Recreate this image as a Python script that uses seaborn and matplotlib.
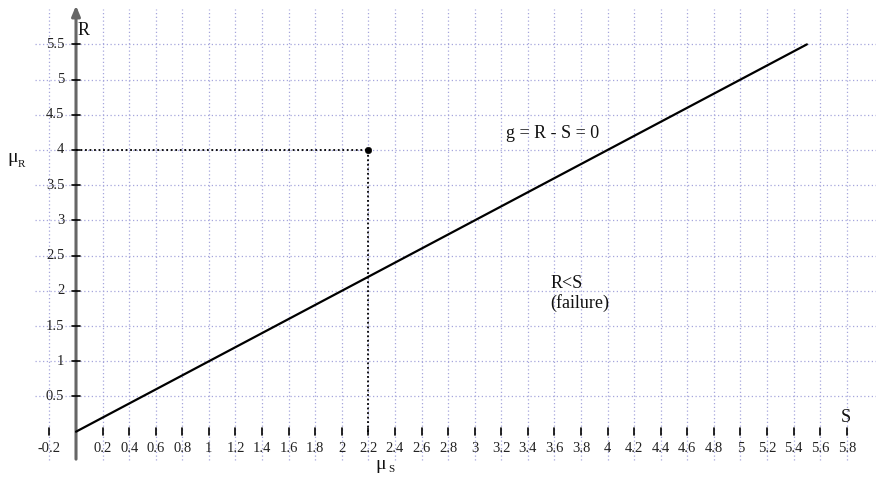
import matplotlib
matplotlib.use("Agg")
import matplotlib.pyplot as plt
import seaborn as sns
import pandas as pd

# Limit-state line g = R - S = 0 and the mean design point
s_line = [0.0, 5.5]
r_line = [0.0, 5.5]
mu_s = 2.2
mu_r = 4.0

# Tick values and their labels
x_ticks = [-0.2, 0.2, 0.4, 0.6, 0.8, 1.0, 1.2, 1.4, 1.6, 1.8, 2.0, 2.2, 2.4, 2.6, 2.8,
           3.0, 3.2, 3.4, 3.6, 3.8, 4.0, 4.2, 4.4, 4.6, 4.8, 5.0, 5.2, 5.4, 5.6, 5.8]
x_labels = ["-0.2", "0.2", "0.4", "0.6", "0.8", "1", "1.2", "1.4", "1.6", "1.8", "2",
            "2.2", "2.4", "2.6", "2.8", "3", "3.2", "3.4", "3.6", "3.8", "4", "4.2",
            "4.4", "4.6", "4.8", "5", "5.2", "5.4", "5.6", "5.8"]
y_ticks = [0.5, 1.0, 1.5, 2.0, 2.5, 3.0, 3.5, 4.0, 4.5, 5.0, 5.5]
y_labels = ["0.5", "1", "1.5", "2", "2.5", "3", "3.5", "4", "4.5", "5", "5.5"]

sns.set_style("white")
plt.rcParams["font.family"] = ["Liberation Serif", "DejaVu Serif"]

fig = plt.figure(figsize=(8.76, 4.79), dpi=100)
ax = fig.add_axes([0, 0, 1, 1])
ax.set_xlim(-0.572, 6.02)
ax.set_ylim(-0.672, 6.13)
ax.axis("off")

grid_kw = dict(color="#a6a6dc", lw=0.9, ls=(0, (1, 2)), zorder=1)
for xv in x_ticks:
    ax.plot([xv, xv], [-0.4, 6.0], **grid_kw)
for yv in y_ticks:
    ax.plot([-0.31, 6.02], [yv, yv], **grid_kw)

# Axes with arrow heads
ax.annotate("", xy=(6.03, 0), xytext=(-0.31, 0),
            arrowprops=dict(arrowstyle="-|>,head_length=0.6,head_width=0.25",
                            color="black", lw=1.4, shrinkA=0, shrinkB=0), zorder=3)
ax.annotate("", xy=(0, 6.05), xytext=(0, -0.39),
            arrowprops=dict(arrowstyle="-|>,head_length=0.6,head_width=0.25",
                            color="#666666", lw=2.2, shrinkA=0, shrinkB=0), zorder=3)

tick_color = "#222222"
for xv, lab in zip(x_ticks, x_labels):
    ax.plot([xv, xv], [-0.05, 0.05], color="black", lw=1.2, zorder=3)
    ax.text(xv, -0.245, lab, ha="center", va="center", fontsize=10.5, color=tick_color)
for yv, lab in zip(y_ticks, y_labels):
    ax.plot([-0.03, 0.03], [yv, yv], color="black", lw=1.2, zorder=3)
    ax.text(-0.088, yv, lab, ha="right", va="center", fontsize=10.5, color=tick_color)

# Guide lines to the mean point
ax.plot([0, mu_s], [mu_r, mu_r], color="black", lw=1.3, ls=(0, (1, 1.5)), zorder=4)
ax.plot([mu_s, mu_s], [0, mu_r], color="black", lw=1.3, ls=(0, (1, 1.5)), zorder=4)

line_df = pd.DataFrame({"S": s_line, "R": r_line})
sns.lineplot(data=line_df, x="S", y="R", ax=ax, color="black", lw=1.6, zorder=5)
sns.scatterplot(x=[mu_s], y=[mu_r], ax=ax, color="black", s=22, edgecolor="black", zorder=6)

txt = "#111111"
ax.text(0.053, 5.69, "R", ha="center", va="center", fontsize=13, color=txt)
ax.text(5.79, 0.2, "S", ha="center", va="center", fontsize=13, color=txt)
ax.text(-0.478, 3.90, "μ", ha="center", va="center", fontsize=14, color=txt)
ax.text(-0.41, 3.80, "R", ha="center", va="center", fontsize=8, color=txt)
ax.text(2.295, -0.47, "μ", ha="center", va="center", fontsize=14, color=txt)
ax.text(2.374, -0.54, "S", ha="center", va="center", fontsize=8, color=txt)
ax.text(3.235, 4.17, "g = R - S = 0", ha="left", va="baseline", fontsize=13, color=txt)
ax.text(3.567, 2.045, "R<S", ha="left", va="baseline", fontsize=13, color=txt)
ax.text(3.567, 1.757, "(failure)", ha="left", va="baseline", fontsize=13, color=txt)

fig.savefig("out.png", dpi=100)
